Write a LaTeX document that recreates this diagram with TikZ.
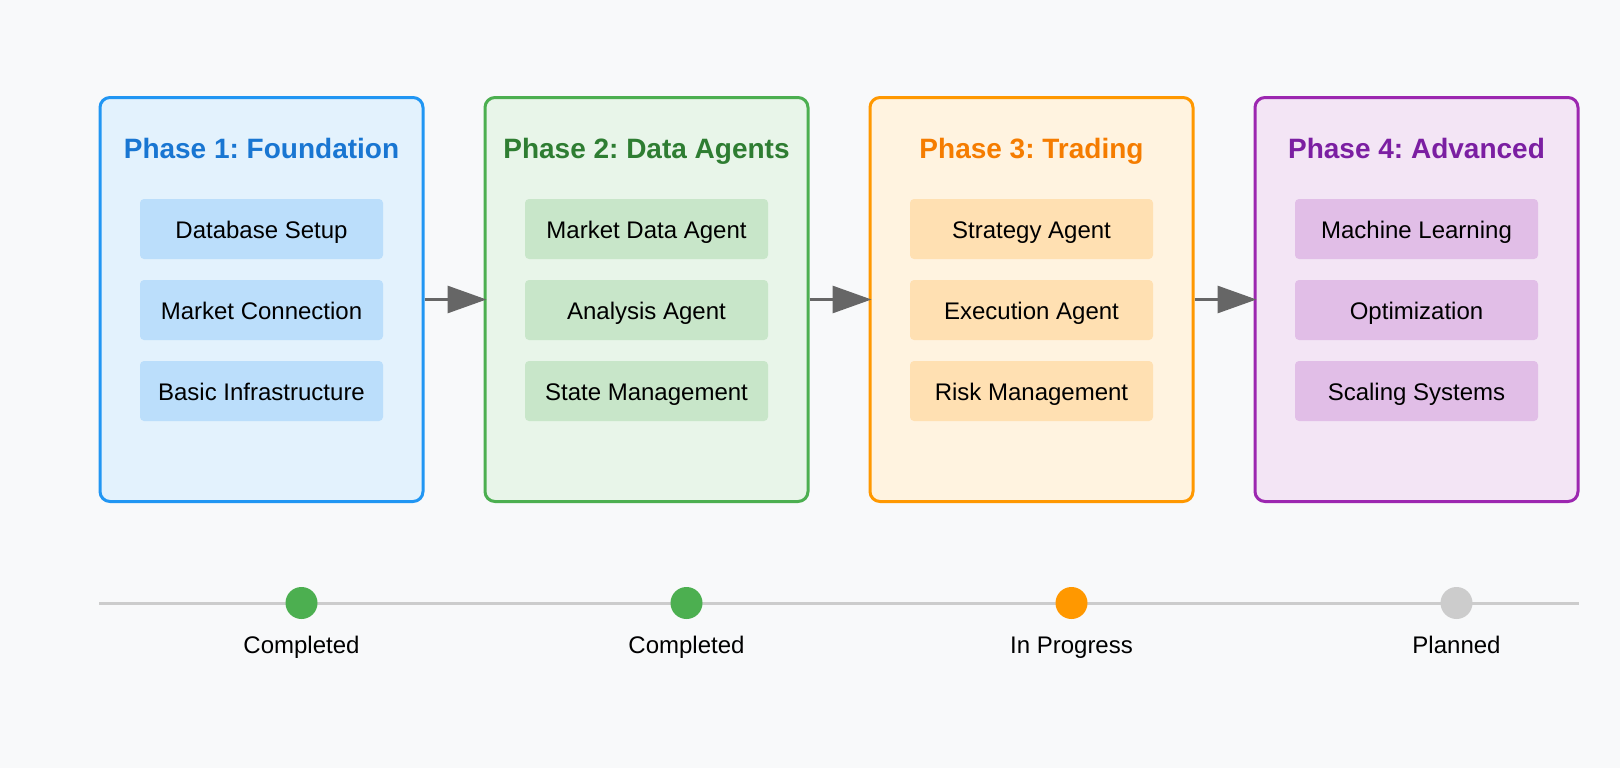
\documentclass[tikz,border=0pt]{standalone}
\usepackage{fontspec}
\setmainfont{Liberation Sans}
\usetikzlibrary{arrows.meta}
\frenchspacing
\definecolor{bg}{HTML}{F8F9FA}
\definecolor{bA}{HTML}{2196F3}\definecolor{fA}{HTML}{E3F2FD}\definecolor{tA}{HTML}{1976D2}\definecolor{iA}{HTML}{BBDEFB}
\definecolor{bB}{HTML}{4CAF50}\definecolor{fB}{HTML}{E8F5E9}\definecolor{tB}{HTML}{2E7D32}\definecolor{iB}{HTML}{C8E6C9}
\definecolor{bC}{HTML}{FF9800}\definecolor{fC}{HTML}{FFF3E0}\definecolor{tC}{HTML}{F57C00}\definecolor{iC}{HTML}{FFE0B2}
\definecolor{bD}{HTML}{9C27B0}\definecolor{fD}{HTML}{F3E5F5}\definecolor{tD}{HTML}{7B1FA2}\definecolor{iD}{HTML}{E1BEE7}
\definecolor{arrowgray}{HTML}{666666}
\definecolor{linegray}{HTML}{CCCCCC}
\tikzset{
  phasebox/.style={draw, line width=3pt, rounded corners=10pt, minimum width=323pt, minimum height=404pt, inner sep=0pt},
  phasetitle/.style={anchor=base, font=\fontsize{28}{32}\selectfont\bfseries, inner sep=0pt},
  itembox/.style={rounded corners=4pt, minimum width=243pt, minimum height=60pt, inner sep=0pt, text height=19.4pt, text depth=0pt, font=\fontsize{24}{28}\selectfont, text=black},
  flowarrow/.style={draw=arrowgray, line width=3pt, -{Triangle[length=39pt, width=27pt]}, shorten >=-3pt},
  dot/.style={circle, minimum size=32pt, inner sep=0pt},
  statuslabel/.style={anchor=base, font=\fontsize{24}{28}\selectfont, inner sep=0pt, text=black}
}
\begin{document}
\begin{tikzpicture}[x=1pt,y=-1pt]
\fill[bg] (0,0) rectangle (1620,768);
\useasboundingbox (0,0) rectangle (1620,768);

% Phase boxes
\node[phasebox, draw=bA, fill=fA] (p1) at (261.5,299.5) {};
\node[phasebox, draw=bB, fill=fB] (p2) at (646.5,299.5) {};
\node[phasebox, draw=bC, fill=fC] (p3) at (1031.5,299.5) {};
\node[phasebox, draw=bD, fill=fD] (p4) at (1416.5,299.5) {};

% Titles
\node[phasetitle, text=tA] (t1) at (261.5,158) {Phase 1: Foundation};
\node[phasetitle, text=tB] (t2) at (646.5,158) {Phase 2: Data Agents};
\node[phasetitle, text=tC] (t3) at (1031.5,158) {Phase 3: Trading};
\node[phasetitle, text=tD] (t4) at (1416.5,158) {Phase 4: Advanced};

% Items
\node[itembox, fill=iA] (a1) at (261.5,229) {Database Setup};
\node[itembox, fill=iA] (a2) at (261.5,310) {Market Connection};
\node[itembox, fill=iA] (a3) at (261.5,391) {Basic Infrastructure};
\node[itembox, fill=iB] (b1) at (646.5,229) {Market Data Agent};
\node[itembox, fill=iB] (b2) at (646.5,310) {Analysis Agent};
\node[itembox, fill=iB] (b3) at (646.5,391) {State Management};
\node[itembox, fill=iC] (c1) at (1031.5,229) {Strategy Agent};
\node[itembox, fill=iC] (c2) at (1031.5,310) {Execution Agent};
\node[itembox, fill=iC] (c3) at (1031.5,391) {Risk Management};
\node[itembox, fill=iD] (d1) at (1416.5,229) {Machine Learning};
\node[itembox, fill=iD] (d2) at (1416.5,310) {Optimization};
\node[itembox, fill=iD] (d3) at (1416.5,391) {Scaling Systems};

% Flow arrows
\draw[flowarrow] (p1.east) -- (p2.west);
\draw[flowarrow] (p2.east) -- (p3.west);
\draw[flowarrow] (p3.east) -- (p4.west);

% Timeline
\coordinate (tlL) at (99,603);
\coordinate (tlR) at (1579,603);
\draw[linegray, line width=3pt] (tlL) -- (tlR);
\node[dot, fill=bB] (s1) at (301.5,603) {};
\node[dot, fill=bB] (s2) at (686.5,603) {};
\node[dot, fill=bC] (s3) at (1071.5,603) {};
\node[dot, fill=linegray] (s4) at (1456.5,603) {};
\node[statuslabel] (l1) at (301.5,653) {Completed};
\node[statuslabel] (l2) at (686.5,653) {Completed};
\node[statuslabel] (l3) at (1071.5,653) {In Progress};
\node[statuslabel] (l4) at (1456.5,653) {Planned};
\end{tikzpicture}
\end{document}
